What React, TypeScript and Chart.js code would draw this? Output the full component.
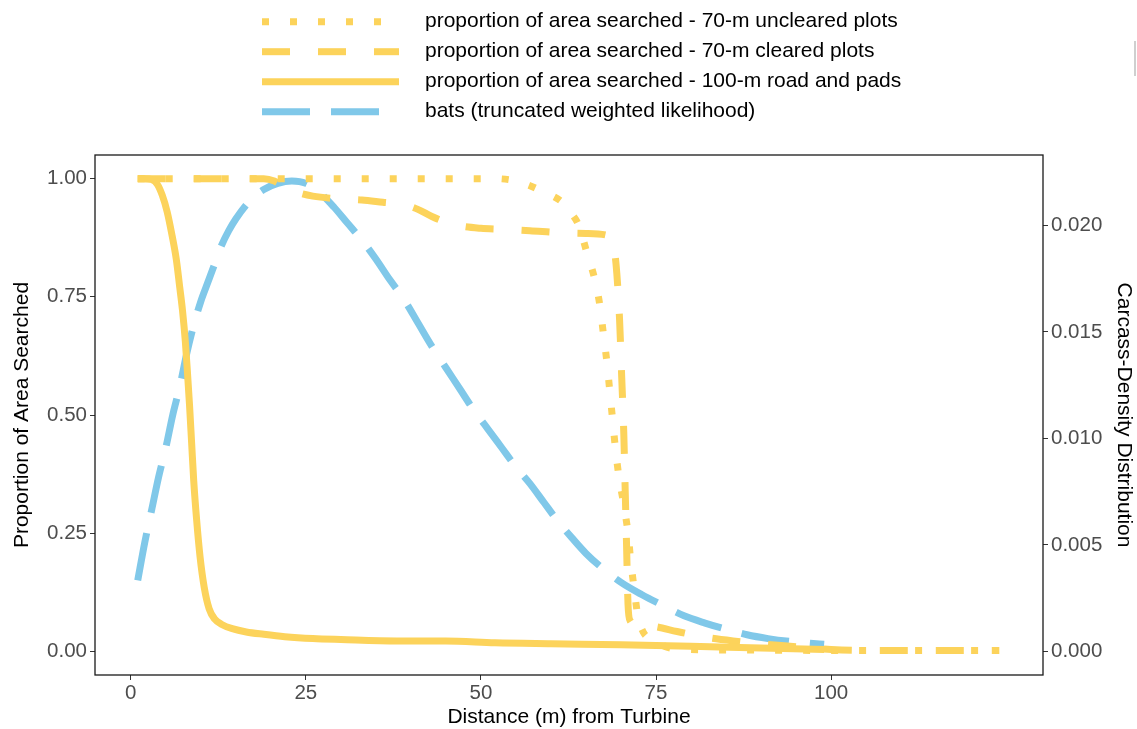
import { useEffect, useRef } from "react";
import { Chart, registerables } from "chart.js";

Chart.register(...registerables);

// ---- data ----
const roadX = [1, 2, 3, 3.8, 4.5, 5.2, 5.9, 6.5, 7.0, 7.4, 7.8, 8.1, 8.4, 8.7, 9.0, 9.4, 9.9, 10.5, 11.2, 12.0, 13.0, 14.5, 16.5, 19, 22, 26, 30, 38, 45, 52, 60, 70, 80, 90, 99];
const roadY = [1.0, 1.0, 0.998, 0.988, 0.965, 0.93, 0.88, 0.83, 0.77, 0.72, 0.655, 0.59, 0.52, 0.44, 0.36, 0.28, 0.2, 0.135, 0.09, 0.068, 0.057, 0.048, 0.041, 0.036, 0.031, 0.027, 0.025, 0.022, 0.022, 0.018, 0.016, 0.014, 0.011, 0.007, 0.004];

const clearedX = [1, 10, 19, 20.5, 22, 24, 26, 29, 33, 36, 39, 41, 43, 45, 47, 50, 53, 57, 61, 65, 68.5, 69.0, 69.4, 69.8, 70.1, 70.4, 70.6, 70.8, 71.0, 71.3, 72, 75, 78, 82, 86, 90, 95, 100, 105, 124];
const clearedY = [1, 1, 1, 0.995, 0.982, 0.97, 0.963, 0.958, 0.955, 0.95, 0.945, 0.935, 0.92, 0.908, 0.9, 0.895, 0.893, 0.89, 0.886, 0.884, 0.878, 0.855, 0.8, 0.7, 0.58, 0.46, 0.34, 0.22, 0.1, 0.065, 0.058, 0.052, 0.042, 0.03, 0.022, 0.016, 0.01, 0.004, 0.002, 0.002];

const unclearedX = [1, 20, 40, 52, 55, 57, 58.5, 60, 61.7, 63, 64, 65.1, 66.2, 67, 67.5, 68, 68.4, 68.8, 69.2, 69.7, 70.4, 71, 71.4, 71.9, 72.4, 73.2, 74.4, 76, 78, 85, 100, 124];
const unclearedY = [1, 1, 1, 1, 0.995, 0.985, 0.975, 0.965, 0.949, 0.925, 0.9, 0.845, 0.79, 0.73, 0.67, 0.61, 0.55, 0.49, 0.43, 0.37, 0.31, 0.25, 0.19, 0.13, 0.075, 0.04, 0.025, 0.012, 0.005, 0.003, 0.002, 0.002];

const batsX = [1, 2, 3, 4, 5, 6, 7, 8, 9, 10, 11, 12, 13, 14, 15, 17, 19, 21, 23, 25, 27, 29, 31, 33, 35, 37, 39, 41, 43, 45, 47, 49, 51, 53, 55, 57, 59, 61, 63, 65, 67, 70, 73, 76, 79, 82, 85, 88, 91, 94, 97, 99];
const batsDensity = [0.00333, 0.00511, 0.00666, 0.00821, 0.00955, 0.0111, 0.01243, 0.01399, 0.01532, 0.01643, 0.01732, 0.01821, 0.01909, 0.01976, 0.02031, 0.02116, 0.02169, 0.02198, 0.02209, 0.02198, 0.02154, 0.02087, 0.02009, 0.01932, 0.01843, 0.01745, 0.01654, 0.01543, 0.01432, 0.01332, 0.01232, 0.01132, 0.01044, 0.00955, 0.00866, 0.00788, 0.00699, 0.00611, 0.00533, 0.0046, 0.004, 0.00324, 0.00266, 0.00215, 0.00167, 0.00133, 0.00104, 0.00078, 0.0006, 0.00047, 0.00038, 0.00033];

const xTicks = [0, 25, 50, 75, 100];
const yTicks = [0, 0.25, 0.5, 0.75, 1.0];
const y2Ticks = [0, 0.005, 0.01, 0.015, 0.02];

const legendLabels = [
  "proportion of area searched - 70-m uncleared plots",
  "proportion of area searched - 70-m cleared plots",
  "proportion of area searched - 100-m road and pads",
  "bats (truncated weighted likelihood)",
];

const YELLOW = "#FCD35B";
const BLUE = "#80C8E9";
const LW = 7;
const legendDashes = [[7, 21], [28, 28], [], [48, 21]];
const legendColors = [YELLOW, YELLOW, YELLOW, BLUE];

const FONT = '"Liberation Sans", Arial, sans-serif';

const zip = (xs: number[], ys: number[]) => xs.map((x, i) => ({ x, y: ys[i] }));

const decorPlugin = {
  id: "decor",
  afterDatasetsDraw(chart: any) {
    const ctx = chart.ctx;
    const a = chart.chartArea;
    ctx.save();
    ctx.strokeStyle = "#1a1a1a";
    ctx.lineWidth = 1.3;
    ctx.strokeRect(a.left, a.top, a.right - a.left, a.bottom - a.top);
    ctx.restore();
  },
  afterDraw(chart: any) {
    const ctx = chart.ctx;
    ctx.save();
    // legend
    const rows = [21.7, 51.7, 81.7, 111.7];
    rows.forEach((y, i) => {
      ctx.beginPath();
      ctx.lineWidth = LW;
      ctx.lineCap = "butt";
      ctx.strokeStyle = legendColors[i];
      ctx.setLineDash(legendDashes[i]);
      ctx.moveTo(262, y);
      ctx.lineTo(399, y);
      ctx.stroke();
    });
    ctx.setLineDash([]);
    ctx.fillStyle = "#000";
    ctx.font = `21px ${FONT}`;
    ctx.textAlign = "left";
    ctx.textBaseline = "middle";
    rows.forEach((y, i) => ctx.fillText(legendLabels[i], 425, y));

    // axis titles
    const a = chart.chartArea;
    const cy = (a.top + a.bottom) / 2;
    ctx.textAlign = "center";
    ctx.save();
    ctx.translate(22, cy);
    ctx.rotate(-Math.PI / 2);
    ctx.fillText("Proportion of Area Searched", 0, 0);
    ctx.restore();
    ctx.save();
    ctx.translate(1124, cy);
    ctx.rotate(Math.PI / 2);
    ctx.fillText("Carcass-Density Distribution", 0, 0);
    ctx.restore();
    ctx.fillText("Distance (m) from Turbine", (a.left + a.right) / 2, 717);

    // small grey mark at right edge of the reference
    ctx.strokeStyle = "#cfcfcf";
    ctx.lineWidth = 2;
    ctx.beginPath();
    ctx.moveTo(1135, 41);
    ctx.lineTo(1135, 76);
    ctx.stroke();
    ctx.restore();
  },
};

export default function App() {
  const ref = useRef<HTMLCanvasElement | null>(null);
  useEffect(() => {
    if (!ref.current) return;
    const tickFont = { family: FONT, size: 20.5 };
    const grid = {
      display: true,
      drawOnChartArea: false,
      drawTicks: true,
      tickLength: 5,
      color: "#333333",
      lineWidth: 1,
    };
    const common = {
      borderWidth: LW,
      borderCapStyle: "butt" as const,
      borderJoinStyle: "round" as const,
      pointRadius: 0,
      fill: false,
      cubicInterpolationMode: "monotone" as const,
    };
    const chart = new Chart(ref.current, {
      type: "line",
      data: {
        datasets: [
          { ...common, label: legendLabels[0], data: zip(unclearedX, unclearedY), borderColor: YELLOW, borderDash: [7, 21], yAxisID: "y", order: 1 },
          { ...common, label: legendLabels[1], data: zip(clearedX, clearedY), borderColor: YELLOW, borderDash: [28, 28], yAxisID: "y", order: 2 },
          { ...common, label: legendLabels[2], data: zip(roadX, roadY), borderColor: YELLOW, yAxisID: "y", order: 0 },
          { ...common, label: legendLabels[3], data: zip(batsX, batsDensity), borderColor: BLUE, borderDash: [48, 21], yAxisID: "y2", order: 5 },
        ],
      },
      options: {
        responsive: false,
        animation: false,
        parsing: true,
        layout: { padding: { top: 155, left: 0, right: 0, bottom: 0 } },
        plugins: { legend: { display: false }, tooltip: { enabled: false }, title: { display: false } },
        scales: {
          x: {
            type: "linear",
            min: -5.1,
            max: 130.25,
            grid,
            border: { display: false },
            ticks: { font: tickFont, color: "#4D4D4D", padding: 1, maxRotation: 0, callback: (v: any) => String(v) },
            afterBuildTicks: (s: any) => { s.ticks = xTicks.map((v) => ({ value: v })); },
            afterFit: (s: any) => { s.height = 54; },
          },
          y: {
            type: "linear",
            position: "left",
            min: -0.05,
            max: 1.05,
            grid,
            border: { display: false },
            ticks: { font: tickFont, color: "#4D4D4D", padding: 3, callback: (v: any) => Number(v).toFixed(2) },
            afterBuildTicks: (s: any) => { s.ticks = yTicks.map((v) => ({ value: v })); },
            afterFit: (s: any) => { s.width = 95; },
          },
          y2: {
            type: "linear",
            position: "right",
            min: -0.05 * 0.022202,
            max: 1.05 * 0.022202,
            grid,
            border: { display: false },
            ticks: { font: tickFont, color: "#4D4D4D", padding: 3, callback: (v: any) => Number(v).toFixed(3) },
            afterBuildTicks: (s: any) => { s.ticks = y2Ticks.map((v) => ({ value: v })); },
            afterFit: (s: any) => { s.width = 94; },
          },
        },
      } as any,
      plugins: [decorPlugin],
    });
    return () => chart.destroy();
  }, []);
  return (
    <div style={{ position: "fixed", left: 0, top: 0, width: 1137, height: 729, background: "#fff" }}>
      <canvas ref={ref} width={1137} height={729} style={{ width: 1137, height: 729, display: "block" }} />
    </div>
  );
}
